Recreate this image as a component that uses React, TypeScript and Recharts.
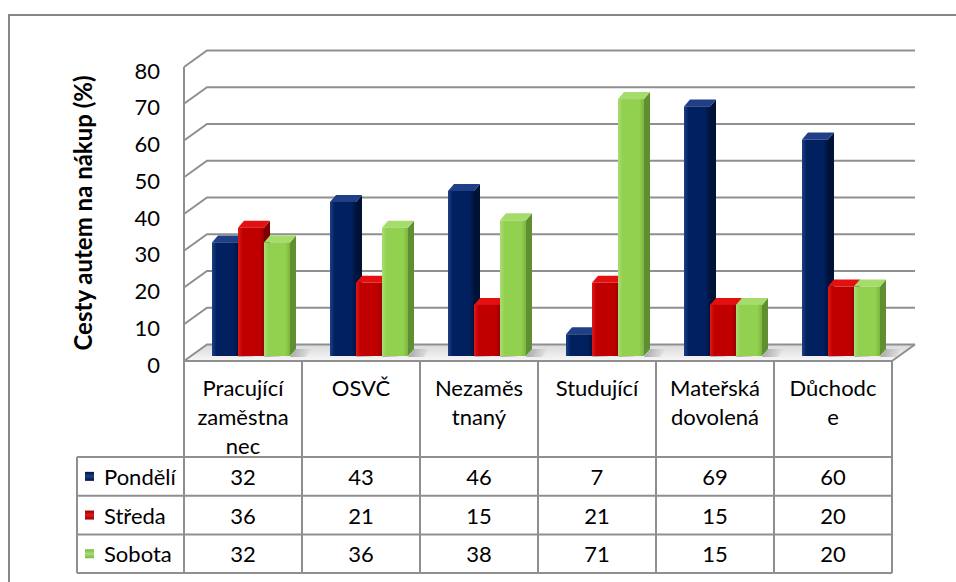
import React from "react";
import { BarChart, Bar, XAxis, YAxis, CartesianGrid, Label } from "recharts";

const categories = ["Pracující zaměstnanec", "OSVČ", "Nezaměstnaný", "Studující", "Mateřská dovolená", "Důchodce"];
// category labels as they wrap in the data table header
const categoryLines = [["Pracující", "zaměstna", "nec"], ["OSVČ"], ["Nezaměs", "tnaný"], ["Studující"], ["Mateřská", "dovolená"], ["Důchodc", "e"]];
const seriesNames = ["Pondělí", "Středa", "Sobota"];
const pondeli = [32, 43, 46, 7, 69, 60];
const streda = [36, 21, 15, 21, 15, 20];
const sobota = [32, 36, 38, 71, 15, 20];
const yTicks = [0, 10, 20, 30, 40, 50, 60, 70, 80];
const yTitle = "Cesty autem na nákup (%)";

const seriesValues = [pondeli, streda, sobota];

const FONT = "Lato, Carlito, Calibri, sans-serif";
const FS = 22;
const GRID = "#8f8f8f";

const W = 956;
const H = 582;
const PLOT_L = 184;
const PLOT_R = 892;
const PLOT_T = 67;
const PLOT_B = 361;
const Y_AXIS_W = 120;
const X_AXIS_H = 212;
const DX = 23; // depth of the back wall
const DY = -16.5;
const HEADER_H = 96;
const ROW_H = 38.7;
const LEGEND_L = 77;

const palette = [
  { light: "#1d3f86", base: "#002060", dark: "#00153f", top: "#203f86", side: "#001236" },
  { light: "#e01818", base: "#c00000", dark: "#9a0000", top: "#e31010", side: "#7d0000" },
  { light: "#a9dd72", base: "#92d050", dark: "#7cb63f", top: "#a6dc6c", side: "#5f8f30" },
];

const data = categories.map((cat, i) => ({
  cat,
  [seriesNames[0]]: pondeli[i],
  [seriesNames[1]]: streda[i],
  [seriesNames[2]]: sobota[i],
}));

function BackWallLine(p: any) {
  const { x1, x2, y1 } = p;
  const isFloor = Math.abs(y1 - PLOT_B) < 1;
  return (
    <g key={`bw-${y1}`}>
      {isFloor && (
        <>
          <polygon
            points={`${x1},${y1} ${x2},${y1} ${x2 + DX},${y1 + DY} ${x1 + DX},${y1 + DY}`}
            fill="url(#floorGrad)"
          />
          <line x1={x1} y1={y1} x2={x2} y2={y1} stroke={GRID} strokeWidth={2} />
          <line x1={x2} y1={y1} x2={x2 + DX} y2={y1 + DY} stroke={GRID} strokeWidth={2} />
        </>
      )}
      <polyline
        points={`${x1},${y1} ${x1 + DX},${y1 + DY} ${x2 + DX},${y1 + DY}`}
        fill="none"
        stroke={GRID}
        strokeWidth={2}
      />
    </g>
  );
}

function Bar3D(props: any) {
  const { x, y, width, height, si } = props;
  if (x == null || height == null) return null;
  const c = palette[si];
  const bx = x + 8;
  const top = y - 1;
  const bottom = y + height - 5;
  const d = 6;
  const dh = 7;
  return (
    <g>
      <polygon
        points={`${bx + width},${bottom + 1} ${bx + width + 16},${bottom + 1} ${bx + width + d + 16},${bottom - dh} ${bx + width + d},${bottom - dh}`}
        fill="url(#shadowGrad)"
      />
      <polygon
        points={`${bx + width},${top} ${bx + width + d},${top - dh} ${bx + width + d},${bottom - dh} ${bx + width},${bottom}`}
        fill={c.side}
      />
      <polygon
        points={`${bx},${top} ${bx + width},${top} ${bx + width + d},${top - dh} ${bx + d},${top - dh}`}
        fill={c.top}
      />
      <rect x={bx} y={top} width={width} height={Math.max(0, bottom - top)} fill={`url(#front${si})`} />
    </g>
  );
}

function YTick(props: any) {
  const { x, y, payload } = props;
  return (
    <text x={x} y={y + 3} textAnchor="end" dominantBaseline="central" fontFamily={FONT} fontSize={FS} fill="#000">
      {payload.value}
    </text>
  );
}

function TableTick(props: any) {
  const { x, y, index } = props;
  const band = (PLOT_R - PLOT_L) / categories.length;
  const l = x - band / 2;
  const r = x + band / 2;
  const lines = categoryLines[index] || [];
  const rowYs = [0, 1, 2, 3].map((k) => y + HEADER_H + k * ROW_H);
  const txt = { fontFamily: FONT, fontSize: FS, fill: "#000", dominantBaseline: "central" as const };
  return (
    <g>
      {lines.map((s, k) => (
        <text key={k} x={x} y={y + 26 + k * 29} textAnchor="middle" {...txt}>
          {s}
        </text>
      ))}
      {seriesValues.map((vals, s) => (
        <text key={`v${s}`} x={x} y={y + HEADER_H + ROW_H * (s + 0.5)} textAnchor="middle" {...txt}>
          {vals[index]}
        </text>
      ))}
      {rowYs.map((ry, k) => (
        <line key={`h${k}`} x1={l} y1={ry} x2={r} y2={ry} stroke={GRID} strokeWidth={2} />
      ))}
      <line x1={r} y1={y} x2={r} y2={rowYs[3]} stroke={GRID} strokeWidth={2} />
      {index === 0 && (
        <g>
          <line x1={l} y1={y} x2={l} y2={rowYs[3]} stroke={GRID} strokeWidth={2} />
          <line x1={LEGEND_L} y1={rowYs[0]} x2={LEGEND_L} y2={rowYs[3]} stroke={GRID} strokeWidth={2} />
          {rowYs.map((ry, k) => (
            <line key={`lh${k}`} x1={LEGEND_L} y1={ry} x2={l} y2={ry} stroke={GRID} strokeWidth={2} />
          ))}
          {seriesNames.map((name, s) => {
            const cy = y + HEADER_H + ROW_H * (s + 0.5);
            return (
              <g key={name}>
                <rect x={85} y={cy - 4.5} width={9} height={9} fill={`url(#key${s})`} />
                <text x={104} y={cy} textAnchor="start" {...txt}>
                  {name}
                </text>
              </g>
            );
          })}
        </g>
      )}
    </g>
  );
}

function YTitle(p: any) {
  const vb = p.viewBox || { x: 64, y: PLOT_T, width: Y_AXIS_W, height: PLOT_B - PLOT_T };
  const cx = vb.x + 18;
  const cy = vb.y + vb.height / 2 - 1;
  return (
    <text
      x={cx}
      y={cy}
      transform={`rotate(-90, ${cx}, ${cy})`}
      textAnchor="middle"
      dominantBaseline="central"
      fontFamily={FONT}
      fontSize={24}
      fontWeight="bold"
      fill="#000"
    >
      {yTitle}
    </text>
  );
}

export default function App() {
  return (
    <div style={{ position: "absolute", left: 0, top: 0, width: W, height: H, overflow: "hidden", background: "#fff" }}>
      <div
        style={{
          position: "absolute",
          left: 8,
          top: 14,
          width: 1000,
          height: 1000,
          border: "2px solid #878787",
        }}
      />
      <div style={{ position: "absolute", left: 0, top: 0 }}>
        <BarChart
          width={W}
          height={H}
          data={data}
          barSize={26}
          barGap={0}
          margin={{ top: PLOT_T, right: W - PLOT_R, left: PLOT_L - Y_AXIS_W, bottom: H - PLOT_B - X_AXIS_H }}
        >
          <defs>
            {palette.map((c, i) => (
              <linearGradient key={`f${i}`} id={`front${i}`} x1="0" y1="0" x2="1" y2="0">
                <stop offset="0%" stopColor={c.light} />
                <stop offset="18%" stopColor={c.base} />
                <stop offset="82%" stopColor={c.base} />
                <stop offset="100%" stopColor={c.dark} />
              </linearGradient>
            ))}
            {palette.map((c, i) => (
              <linearGradient key={`k${i}`} id={`key${i}`} x1="0" y1="0" x2="0" y2="1">
                <stop offset="0%" stopColor={c.dark} />
                <stop offset="50%" stopColor={c.light} />
                <stop offset="100%" stopColor={c.dark} />
              </linearGradient>
            ))}
            <linearGradient id="floorGrad" x1="0" y1="0" x2="0" y2="1">
              <stop offset="0%" stopColor="#d9d9d9" />
              <stop offset="100%" stopColor="#f7f7f7" />
            </linearGradient>
            <linearGradient id="shadowGrad" x1="0" y1="0" x2="1" y2="0">
              <stop offset="0%" stopColor="#8a8a8a" stopOpacity={0.7} />
              <stop offset="100%" stopColor="#8a8a8a" stopOpacity={0} />
            </linearGradient>
          </defs>
          <CartesianGrid vertical={false} horizontal={(p: any) => <BackWallLine {...p} />} />
          <XAxis
            dataKey="cat"
            height={X_AXIS_H}
            axisLine={false}
            tickLine={false}
            tickSize={0}
            tickMargin={0}
            interval={0}
            tick={<TableTick />}
          />
          <YAxis
            domain={[0, 80]}
            ticks={yTicks}
            width={Y_AXIS_W}
            tickSize={0}
            tickMargin={24}
            tickLine={false}
            axisLine={{ stroke: GRID, strokeWidth: 2 }}
            interval={0}
            tick={<YTick />}
          >
            <Label content={<YTitle />} />
          </YAxis>
          {seriesNames.map((name, si) => (
            <Bar
              key={name}
              dataKey={name}
              isAnimationActive={false}
              shape={(p: any) => <Bar3D {...p} si={si} />}
            />
          ))}
        </BarChart>
      </div>
    </div>
  );
}
